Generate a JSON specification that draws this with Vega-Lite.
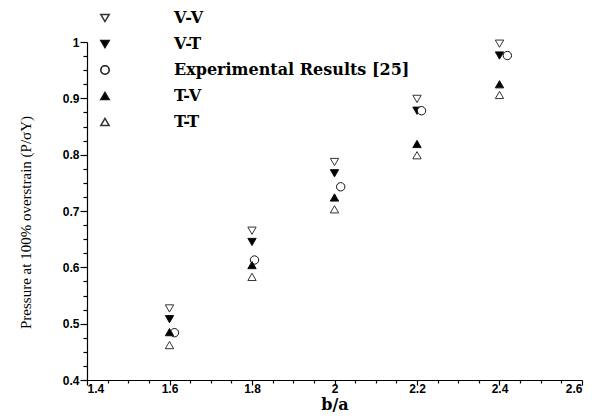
{
  "$schema": "https://vega.github.io/schema/vega-lite/v6.json",
  "width": 495,
  "height": 338,
  "autosize": {"type": "none"},
  "padding": {"left": 87, "top": 42, "right": 17, "bottom": 36},
  "background": "white",
  "config": {
    "view": {"stroke": null},
    "axis": {
      "domainColor": "black",
      "domainWidth": 1.2,
      "ticks": true,
      "tickColor": "black",
      "tickOpacity": 1,
      "tickWidth": 1.2,
      "grid": false,
      "labelFont": "Liberation Sans",
      "labelFontWeight": "bold",
      "labelFontSize": 12,
      "labelColor": "black",
      "titleColor": "black",
      "titleFont": "Liberation Serif"
    },
    "legend": {
      "orient": "none",
      "legendX": 10,
      "legendY": -32,
      "padding": 0,
      "labelFont": "DejaVu Serif",
      "labelFontWeight": "bold",
      "labelFontSize": 16,
      "labelColor": "black",
      "labelOffset": 61,
      "labelLimit": 400,
      "rowPadding": 10,
      "symbolSize": 70
    }
  },
  "data": {
    "values": [
      {"ba": 1.6, "p": 0.527, "series": "V-V"},
      {"ba": 1.6, "p": 0.508, "series": "V-T"},
      {"ba": 1.612, "p": 0.484, "series": "Experimental Results [25]"},
      {"ba": 1.6, "p": 0.485, "series": "T-V"},
      {"ba": 1.6, "p": 0.462, "series": "T-T"},
      {"ba": 1.8, "p": 0.665, "series": "V-V"},
      {"ba": 1.8, "p": 0.645, "series": "V-T"},
      {"ba": 1.806, "p": 0.613, "series": "Experimental Results [25]"},
      {"ba": 1.8, "p": 0.604, "series": "T-V"},
      {"ba": 1.8, "p": 0.583, "series": "T-T"},
      {"ba": 2.0, "p": 0.787, "series": "V-V"},
      {"ba": 2.0, "p": 0.767, "series": "V-T"},
      {"ba": 2.015, "p": 0.743, "series": "Experimental Results [25]"},
      {"ba": 2.0, "p": 0.724, "series": "T-V"},
      {"ba": 2.0, "p": 0.703, "series": "T-T"},
      {"ba": 2.2, "p": 0.899, "series": "V-V"},
      {"ba": 2.2, "p": 0.878, "series": "V-T"},
      {"ba": 2.211, "p": 0.878, "series": "Experimental Results [25]"},
      {"ba": 2.2, "p": 0.819, "series": "T-V"},
      {"ba": 2.2, "p": 0.799, "series": "T-T"},
      {"ba": 2.4, "p": 0.997, "series": "V-V"},
      {"ba": 2.4, "p": 0.976, "series": "V-T"},
      {"ba": 2.419, "p": 0.976, "series": "Experimental Results [25]"},
      {"ba": 2.4, "p": 0.925, "series": "T-V"},
      {"ba": 2.4, "p": 0.906, "series": "T-T"}
    ]
  },
  "mark": {"type": "point", "filled": true, "strokeWidth": 1, "opacity": 1, "size": 70},
  "encoding": {
    "x": {
      "field": "ba", "type": "quantitative",
      "scale": {"domain": [1.4, 2.6], "nice": false, "zero": false},
      "axis": {
        "values": [1.4, 1.45, 1.5, 1.55, 1.6, 1.65, 1.7, 1.75, 1.8, 1.85, 1.9, 1.95, 2.0, 2.05, 2.1, 2.15, 2.2, 2.25, 2.3, 2.35, 2.4, 2.45, 2.5, 2.55, 2.6],
        "labelExpr": "abs(datum.value * 5 - round(datum.value * 5)) < 0.001 ? format(datum.value, '~g') : ''",
        "tickSize": {"condition": {"test": "abs(datum.value * 5 - round(datum.value * 5)) < 0.001", "value": 5}, "value": 3},
        "labelPadding": -2,
        "labelBaseline": "top",
        "title": "b/a",
        "titleFont": "DejaVu Serif",
        "titleFontSize": 16,
        "titleFontWeight": "bold",
        "titleBaseline": "alphabetic",
        "titleY": 29
      }
    },
    "y": {
      "field": "p", "type": "quantitative",
      "scale": {"domain": [0.4, 1.0], "nice": false, "zero": false},
      "axis": {
        "values": [0.4, 0.425, 0.45, 0.475, 0.5, 0.525, 0.55, 0.575, 0.6, 0.625, 0.65, 0.675, 0.7, 0.725, 0.75, 0.775, 0.8, 0.825, 0.85, 0.875, 0.9, 0.925, 0.95, 0.975, 1.0],
        "labelExpr": "abs(datum.value * 10 - round(datum.value * 10)) < 0.001 ? format(datum.value, '~g') : ''",
        "tickSize": {"condition": {"test": "abs(datum.value * 10 - round(datum.value * 10)) < 0.001", "value": 7}, "value": 4},
        "labelPadding": 1,
        "title": "Pressure at 100% overstrain (P/σY)",
        "titleFontSize": 15,
        "titleFontWeight": "normal",
        "titleAnchor": "middle",
        "titleAlign": "center",
        "titleY": 180,
        "titleX": -54
      }
    },
    "shape": {
      "field": "series", "type": "nominal",
      "scale": {
        "domain": ["V-V", "V-T", "Experimental Results [25]", "T-V", "T-T"],
        "range": ["triangle-down", "triangle-down", "circle", "triangle-up", "triangle-up"]
      },
      "legend": {"title": null}
    },
    "fill": {
      "field": "series", "type": "nominal",
      "scale": {
        "domain": ["V-V", "V-T", "Experimental Results [25]", "T-V", "T-T"],
        "range": ["white", "black", "white", "black", "white"]
      },
      "legend": {"title": null}
    },
    "stroke": {
      "field": "series", "type": "nominal",
      "scale": {
        "domain": ["V-V", "V-T", "Experimental Results [25]", "T-V", "T-T"],
        "range": ["#333", "#111", "#111", "#111", "#333"]
      },
      "legend": {"title": null}
    }
  }
}
